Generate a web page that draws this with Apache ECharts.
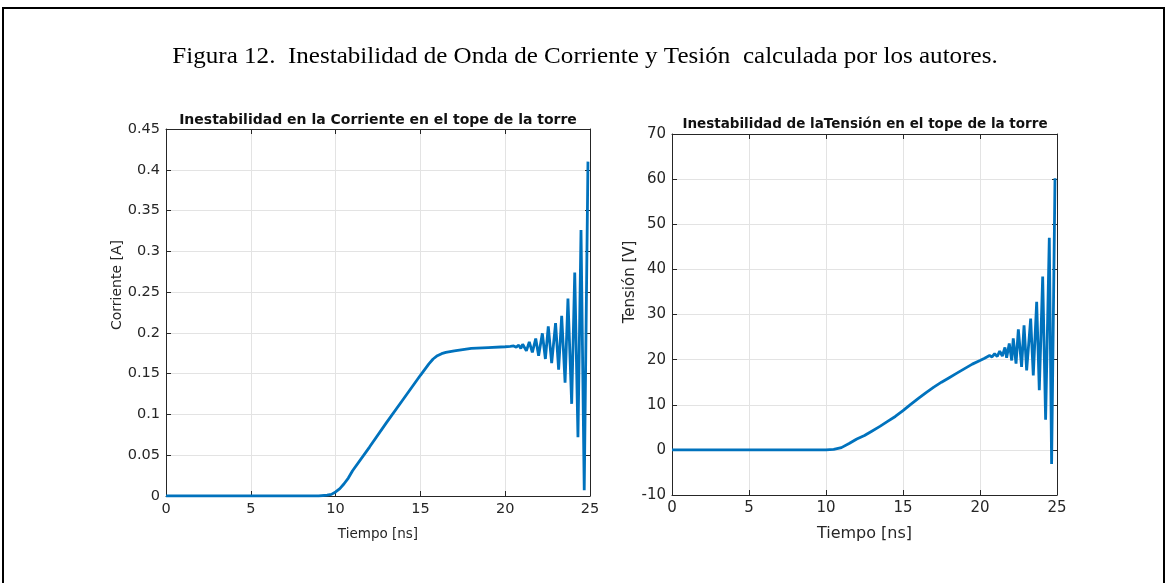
<!DOCTYPE html>
<html>
<head>
<meta charset="utf-8">
<script src="https://cdn.jsdelivr.net/npm/echarts@6/dist/echarts.min.js"></script>
<style>
html,body{margin:0;padding:0;background:#fff;}
#c{width:1168px;height:583px;}
</style>
</head>
<body>
<div id="c"></div>
<script>
// ---- data ----
const captionText = 'Figura 12.  Inestabilidad de Onda de Corriente y Tesión  calculada por los autores.';
const leftTitle = 'Inestabilidad en la Corriente en el tope de la torre';
const rightTitle = 'Inestabilidad de laTensión en el tope de la torre';
const xName = 'Tiempo [ns]';
const leftYName = 'Corriente [A]';
const rightYName = 'Tensión [V]';

const leftTime = [0, 5, 9, 9.5, 9.75, 10, 10.25, 10.5, 10.75, 11, 12, 13, 14, 15, 15.5, 15.75, 16, 16.25, 16.5, 17, 18, 19, 20, 20.3, 20.5, 20.65, 20.8, 20.92, 21.03, 21.25, 21.42, 21.6, 21.8, 21.97, 22.19, 22.37, 22.54, 22.74, 22.97, 23.15, 23.33, 23.53, 23.7, 23.92, 24.1, 24.29, 24.47, 24.66, 24.88];
const leftCurrent = [0, 0, 0, 0.001, 0.002, 0.005, 0.009, 0.015, 0.022, 0.031, 0.06, 0.09, 0.119, 0.148, 0.162, 0.168, 0.172, 0.1745, 0.176, 0.178, 0.181, 0.182, 0.183, 0.1835, 0.184, 0.1825, 0.185, 0.181, 0.186, 0.178, 0.189, 0.176, 0.193, 0.172, 0.1995, 0.168, 0.208, 0.163, 0.212, 0.155, 0.221, 0.139, 0.242, 0.113, 0.274, 0.072, 0.326, 0.007, 0.41];

const rightTime = [0, 5, 10, 10.5, 11, 11.5, 12, 12.5, 13, 13.5, 14, 14.5, 15, 15.5, 16, 16.5, 17, 17.5, 18, 18.5, 19, 19.5, 20, 20.3, 20.62, 20.78, 20.95, 21.12, 21.28, 21.45, 21.62, 21.73, 21.9, 22.06, 22.16, 22.34, 22.49, 22.7, 22.86, 23.03, 23.29, 23.46, 23.68, 23.85, 24.07, 24.26, 24.5, 24.65, 24.87];
const rightVoltage = [0, 0, 0, 0.1, 0.5, 1.4, 2.4, 3.2, 4.2, 5.2, 6.3, 7.4, 8.7, 10.1, 11.4, 12.7, 13.9, 15.0, 16.0, 17.0, 18.0, 19.0, 19.8, 20.3, 20.9, 20.6, 21.3, 20.7, 21.9, 20.8, 22.7, 20.4, 23.6, 19.8, 24.7, 19.1, 26.7, 18.4, 27.6, 17.6, 29.1, 16.5, 32.8, 13.2, 38.4, 6.7, 47, -3.1, 60.2];

const xTicks = {min: 0, max: 25, interval: 5};
const leftY = {min: 0, max: 0.45, interval: 0.05};
const rightY = {min: -10, max: 70, interval: 10};

// ---- chart ----
const AX = '#262626';
const GRID = '#e3e3e3';
const BLUE = '#0072BD';
const chart = echarts.init(document.getElementById('c'));

function pairs(xs, ys) { return xs.map((x, i) => [x, ys[i]]); }

function xAxes(gi, fs, nfs) {
  return [
    {gridIndex: gi, type: 'value', min: xTicks.min, max: xTicks.max, interval: xTicks.interval,
     name: xName, nameLocation: 'middle', nameGap: 31,
     nameTextStyle: {color: AX, fontFamily: 'DejaVu Sans', fontSize: nfs},
     axisLine: {onZero: false, lineStyle: {color: AX, width: 1}}, axisTick: {inside: true, length: 5, lineStyle: {color: AX}},
     axisLabel: {color: AX, fontFamily: 'DejaVu Sans', fontSize: fs, margin: 6},
     splitLine: {show: true, lineStyle: {color: GRID}}},
    {gridIndex: gi, type: 'value', position: 'top', min: xTicks.min, max: xTicks.max, interval: xTicks.interval,
     axisLine: {show: true, onZero: false, lineStyle: {color: AX, width: 1}}, axisTick: {show: true, inside: true, length: 5, lineStyle: {color: AX}},
     axisLabel: {show: false}, splitLine: {show: false}}
  ];
}
function yAxes(gi, rng, fs) {
  return [
    {gridIndex: gi, type: 'value', min: rng.min, max: rng.max, interval: rng.interval,
     axisLine: {show: true, onZero: false, lineStyle: {color: AX, width: 1}}, axisTick: {show: true, inside: true, length: 5, lineStyle: {color: AX}},
     axisLabel: {color: AX, fontFamily: 'DejaVu Sans', fontSize: fs, margin: 6},
     splitLine: {show: true, lineStyle: {color: GRID}}},
    {gridIndex: gi, type: 'value', position: 'right', min: rng.min, max: rng.max, interval: rng.interval,
     axisLine: {show: true, onZero: false, lineStyle: {color: AX, width: 1}}, axisTick: {show: true, inside: true, length: 5, lineStyle: {color: AX}},
     axisLabel: {show: false}, splitLine: {show: false}}
  ];
}

const option = {
  animation: false,
  backgroundColor: '#fff',
  graphic: [
    {type: 'rect', shape: {x: 3, y: 8, width: 1161, height: 620}, style: {fill: 'none', stroke: '#000', lineWidth: 2}},
    {type: 'text', x: 585, y: 57, scaleX: 1.09, style: {text: captionText, font: '23px "Liberation Serif"', fill: '#000', textAlign: 'center', textVerticalAlign: 'middle'}},
    {type: 'text', x: 378, y: 120, style: {text: leftTitle, font: 'bold 14px "DejaVu Sans"', fill: '#111', textAlign: 'center', textVerticalAlign: 'middle'}},
    {type: 'text', x: 865, y: 124, style: {text: rightTitle, font: 'bold 13.5px "DejaVu Sans"', fill: '#111', textAlign: 'center', textVerticalAlign: 'middle'}},
    {type: 'text', x: 117, y: 285, rotation: Math.PI / 2, style: {text: leftYName, font: '14px "DejaVu Sans"', fill: AX, textAlign: 'center', textVerticalAlign: 'middle'}},
    {type: 'text', x: 630, y: 282, rotation: Math.PI / 2, style: {text: rightYName, font: '15px "DejaVu Sans"', fill: AX, textAlign: 'center', textVerticalAlign: 'middle'}}
  ],
  grid: [
    {left: 166, right: 578, top: 129, bottom: 87},
    {left: 672, right: 111, top: 134, bottom: 88}
  ],
  xAxis: [].concat(xAxes(0, 14.5, 13.5), xAxes(1, 15, 16)),
  yAxis: [].concat(yAxes(0, leftY, 14.5), yAxes(1, rightY, 15)),
  series: [
    {type: 'line', xAxisIndex: 0, yAxisIndex: 0, data: pairs(leftTime, leftCurrent), showSymbol: false,
     lineStyle: {color: BLUE, width: 2.8}, clip: true},
    {type: 'line', xAxisIndex: 2, yAxisIndex: 2, data: pairs(rightTime, rightVoltage), showSymbol: false,
     lineStyle: {color: BLUE, width: 2.8}, clip: true}
  ]
};
chart.setOption(option);
</script>
</body>
</html>
